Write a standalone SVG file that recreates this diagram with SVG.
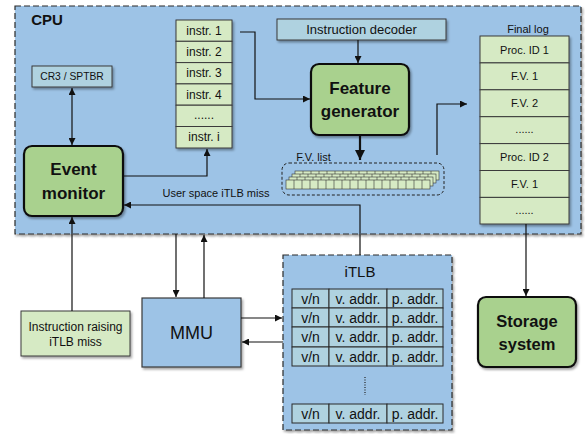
<svg xmlns="http://www.w3.org/2000/svg" width="585" height="434" viewBox="0 0 585 434">
  <style>
    text { font-family: "Liberation Sans", Arial, sans-serif; fill: #111; text-anchor: middle; dominant-baseline: central; }
    .area { fill: #9DC3E6; stroke: #2b2b2b; stroke-width: 1.2; stroke-dasharray: 6 3; }
    .pale { fill: #AFD2E0; stroke: #3a3a3a; stroke-width: 1; }
    .cell { fill: #D6EAC4; stroke: #3a3a3a; stroke-width: 1; }
    .key { fill: #A9D18E; stroke: #111; stroke-width: 2.2; }
    .mmu { fill: #9DC3E6; stroke: #3a3a3a; stroke-width: 1.2; }
    .tlb { fill: #AFD2E0; stroke: #2b2b2b; stroke-width: 1; }
    .bold { font-weight: bold; font-size: 17px; }
    .conn { fill: none; stroke: #111; stroke-width: 1.2; }
    .cube { fill: #D6EAC4; stroke: #333; stroke-width: 0.6; }
  </style>
  <defs>
    <filter id="sh" x="-10%" y="-10%" width="130%" height="130%">
      <feDropShadow dx="1.5" dy="2" stdDeviation="1.2" flood-color="#000" flood-opacity="0.35"/>
    </filter>
    <marker id="ah" viewBox="0 0 10 10" refX="10" refY="5" markerWidth="7" markerHeight="7" markerUnits="userSpaceOnUse" orient="auto-start-reverse">
      <path d="M0,0 L10,5 L0,10 z" fill="#111"/>
    </marker>
    <marker id="ahBig" viewBox="0 0 10 10" refX="10" refY="5" markerWidth="10" markerHeight="10" markerUnits="userSpaceOnUse" orient="auto">
      <path d="M0,0 L10,5 L0,10 z" fill="#111"/>
    </marker>
    <!-- one layer of feature-vector cubes (18 cells) -->
    <g id="cubeRow">
      <rect class="cube" x="0" y="0" width="144" height="9"/>
      <path class="cube" d="M8,0V9M16,0V9M24,0V9M32,0V9M40,0V9M48,0V9M56,0V9M64,0V9M72,0V9M80,0V9M88,0V9M96,0V9M104,0V9M112,0V9M120,0V9M128,0V9M136,0V9"/>
    </g>
  </defs>

  <!-- CPU region -->
  <g id="cpu">
    <rect class="area" x="15" y="6" width="566" height="228" filter="url(#sh)"/>
    <text x="47" y="19" style="font-size:15px;font-weight:bold">CPU</text>
  </g>

  <g id="cr3">
    <rect class="pale" x="32" y="66" width="80" height="21" filter="url(#sh)"/>
    <text x="72" y="76.5" style="font-size:10.3px">CR3 / SPTBR</text>
  </g>

  <g id="event-monitor">
    <rect class="key" x="24" y="146" width="99" height="70" rx="8" filter="url(#sh)"/>
    <text class="bold" x="73.5" y="169">Event</text>
    <text class="bold" x="73.5" y="193">monitor</text>
  </g>

  <g id="instr-list" style="font-size:12px">
    <g filter="url(#sh)">
      <rect class="cell" x="176" y="20" width="56" height="21.3"/>
      <rect class="cell" x="176" y="41.3" width="56" height="21.3"/>
      <rect class="cell" x="176" y="62.6" width="56" height="21.3"/>
      <rect class="cell" x="176" y="83.9" width="56" height="21.3"/>
      <rect class="cell" x="176" y="105.2" width="56" height="21.3"/>
      <rect class="cell" x="176" y="126.5" width="56" height="21.5"/>
    </g>
    <text x="204" y="30.6">instr. 1</text>
    <text x="204" y="51.9">instr. 2</text>
    <text x="204" y="73.2">instr. 3</text>
    <text x="204" y="94.5">instr. 4</text>
    <text x="204" y="115">......</text>
    <text x="204" y="137.2">instr. i</text>
  </g>

  <g id="decoder">
    <rect class="pale" x="277" y="19" width="169" height="21" filter="url(#sh)"/>
    <text x="361.5" y="29.5" style="font-size:13px">Instruction decoder</text>
  </g>

  <g id="feature-generator">
    <rect class="key" x="311" y="64" width="98" height="71" rx="8" filter="url(#sh)"/>
    <text class="bold" x="360" y="88">Feature</text>
    <text class="bold" x="360" y="111.5">generator</text>
  </g>

  <g id="fv-list">
    <text x="313.5" y="157" style="font-size:11px">F.V. list</text>
    <rect x="282" y="163" width="162" height="32" rx="7" fill="none" stroke="#222" stroke-width="1" stroke-dasharray="3 2"/>
    <g id="cubes">
      <use href="#cubeRow" x="295" y="171"/>
      <use href="#cubeRow" x="292" y="174"/>
      <use href="#cubeRow" x="289" y="177"/>
      <use href="#cubeRow" x="286" y="180"/>
    </g>
  </g>

  <g id="final-log" style="font-size:11px">
    <text x="528" y="29">Final log</text>
    <g filter="url(#sh)">
      <rect class="cell" x="480" y="36" width="89" height="26.9"/>
      <rect class="cell" x="480" y="62.9" width="89" height="26.9"/>
      <rect class="cell" x="480" y="89.8" width="89" height="26.9"/>
      <rect class="cell" x="480" y="116.7" width="89" height="26.9"/>
      <rect class="cell" x="480" y="143.6" width="89" height="26.9"/>
      <rect class="cell" x="480" y="170.5" width="89" height="26.9"/>
      <rect class="cell" x="480" y="197.4" width="89" height="26.6"/>
    </g>
    <text x="524.5" y="49.5">Proc. ID 1</text>
    <text x="524.5" y="76.3">F.V. 1</text>
    <text x="524.5" y="103.2">F.V. 2</text>
    <text x="524.5" y="129">......</text>
    <text x="524.5" y="157">Proc. ID 2</text>
    <text x="524.5" y="184">F.V. 1</text>
    <text x="524.5" y="210">......</text>
  </g>

  <g id="storage">
    <rect class="key" x="478" y="297" width="98" height="70" rx="8" filter="url(#sh)"/>
    <text class="bold" x="527" y="321" style="font-size:16.5px">Storage</text>
    <text class="bold" x="527" y="344" style="font-size:16.5px">system</text>
  </g>

  <g id="instr-raising">
    <rect class="cell" x="21" y="311" width="109" height="45" filter="url(#sh)"/>
    <text x="75.5" y="327" style="font-size:12px">Instruction raising</text>
    <text x="75.5" y="342" style="font-size:12px">iTLB miss</text>
  </g>

  <g id="mmu">
    <rect class="mmu" x="142" y="298" width="99" height="69" filter="url(#sh)"/>
    <text x="191.5" y="333" style="font-size:18px">MMU</text>
  </g>

  <g id="itlb">
    <rect class="area" x="283" y="255" width="169" height="175" filter="url(#sh)"/>
    <text x="360" y="271" style="font-size:15px">iTLB</text>
    <g style="font-size:14px">
      <rect class="tlb" x="292" y="289" width="37" height="19"/>
      <rect class="tlb" x="329" y="289" width="58" height="19"/>
      <rect class="tlb" x="387" y="289" width="56" height="19"/>
      <rect class="tlb" x="292" y="308" width="37" height="19"/>
      <rect class="tlb" x="329" y="308" width="58" height="19"/>
      <rect class="tlb" x="387" y="308" width="56" height="19"/>
      <rect class="tlb" x="292" y="327" width="37" height="20"/>
      <rect class="tlb" x="329" y="327" width="58" height="20"/>
      <rect class="tlb" x="387" y="327" width="56" height="20"/>
      <rect class="tlb" x="292" y="347" width="37" height="19"/>
      <rect class="tlb" x="329" y="347" width="58" height="19"/>
      <rect class="tlb" x="387" y="347" width="56" height="19"/>
      <rect class="tlb" x="292" y="404" width="37" height="19"/>
      <rect class="tlb" x="329" y="404" width="58" height="19"/>
      <rect class="tlb" x="387" y="404" width="56" height="19"/>
      <text x="310.5" y="298.5">v/n</text><text x="358" y="298.5">v. addr.</text><text x="415" y="298.5">p. addr.</text>
      <text x="310.5" y="317.5">v/n</text><text x="358" y="317.5">v. addr.</text><text x="415" y="317.5">p. addr.</text>
      <text x="310.5" y="337">v/n</text><text x="358" y="337">v. addr.</text><text x="415" y="337">p. addr.</text>
      <text x="310.5" y="356.5">v/n</text><text x="358" y="356.5">v. addr.</text><text x="415" y="356.5">p. addr.</text>
      <text x="310.5" y="413.5">v/n</text><text x="358" y="413.5">v. addr.</text><text x="415" y="413.5">p. addr.</text>
    </g>
    <line x1="365" y1="377" x2="365" y2="395" stroke="#222" stroke-width="1.2" stroke-dasharray="1 1.5"/>
  </g>

  <!-- connectors -->
  <g id="connectors">
    <path class="conn" d="M72,88 V145" marker-start="url(#ah)" marker-end="url(#ah)"/>
    <path class="conn" d="M123,176 H207 V149" marker-end="url(#ah)"/>
    <path class="conn" d="M240,32 H255 V99 H310" marker-end="url(#ah)"/>
    <path class="conn" d="M358,40 V63" marker-end="url(#ah)"/>
    <path class="conn" d="M360,136 V160" style="stroke-width:2.2" marker-end="url(#ahBig)"/>
    <path class="conn" d="M437,155 V104 H467" marker-end="url(#ah)"/>
    <path class="conn" d="M526,224 V296" marker-end="url(#ah)"/>
    <path class="conn" d="M360,255 V205 H124" marker-end="url(#ah)"/>
    <text x="216" y="193" style="font-size:11px">User space iTLB miss</text>
    <path class="conn" d="M72,311 V217" marker-end="url(#ah)"/>
    <path class="conn" d="M176,234 V297" marker-end="url(#ah)"/>
    <path class="conn" d="M204,298 V235" marker-end="url(#ah)"/>
    <path class="conn" d="M241,318 H282" marker-end="url(#ah)"/>
    <path class="conn" d="M283,342 H242" marker-end="url(#ah)"/>
  </g>
</svg>
